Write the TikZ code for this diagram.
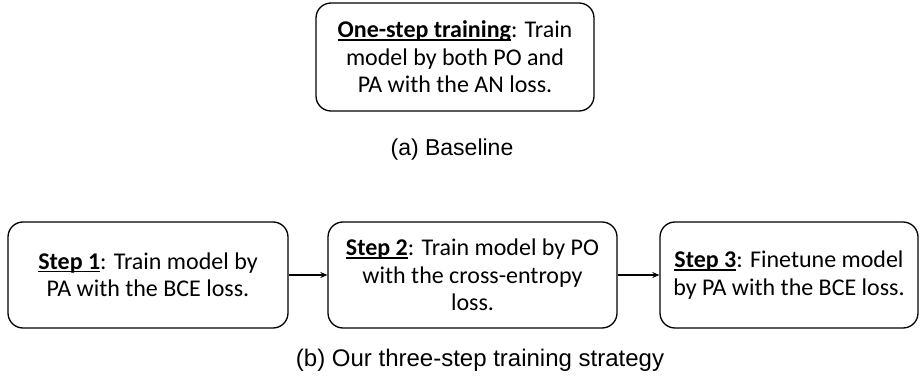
\documentclass[tikz,border=0pt]{standalone}
\usepackage{fontspec}
\setmainfont{Carlito}
\newfontfamily\capfont{Liberation Sans}
\usetikzlibrary{arrows.meta}
\newcommand{\stepul}[1]{\setbox0\hbox{\textbf{#1}}\rlap{\rule[-3pt]{\wd0}{1.6pt}}\box0}
\begin{document}
\begin{tikzpicture}[x=1pt,y=-1pt]
		\useasboundingbox (0,0) rectangle (922,385);
		\begin{scope}[every node/.style={draw,line width=1.3pt,rounded corners=15pt,align=center,inner sep=0pt,font=\fontsize{24}{27.5}\selectfont}]
		\node[minimum width=278pt,minimum height=108pt] (base) at (455,57)
		{\stepul{One-step training}: Train\\model by both PO and\\PA with the AN loss.};
		\node[minimum width=280pt,minimum height=106pt] (s1) at (148,275)
		{\stepul{Step 1}: Train model by\\PA with the BCE loss.};
		\node[minimum width=289pt,minimum height=106pt] (s2) at (472.5,275)
		{\stepul{Step 2}: Train model by PO\\with the cross-entropy\\loss.};
		\node[minimum width=258pt,minimum height=106pt] (s3) at (789,275)
		{\stepul{Step 3}: Finetune model\\by PA with the BCE loss.};
		\end{scope}
		\node[font=\capfont\fontsize{23}{28}\selectfont] (capa) at (452,150) {(a) Baseline};
		\node[font=\capfont\fontsize{24}{28}\selectfont] (capb) at (480,360) {(b) Our three-step training strategy};
		\draw[line width=1.3pt,-{Stealth[length=7pt,width=6pt]}] (s1) -- (s2);
		\draw[line width=1.3pt,-{Stealth[length=7pt,width=6pt]}] (s2) -- (s3);
		\end{tikzpicture}
\end{document}
